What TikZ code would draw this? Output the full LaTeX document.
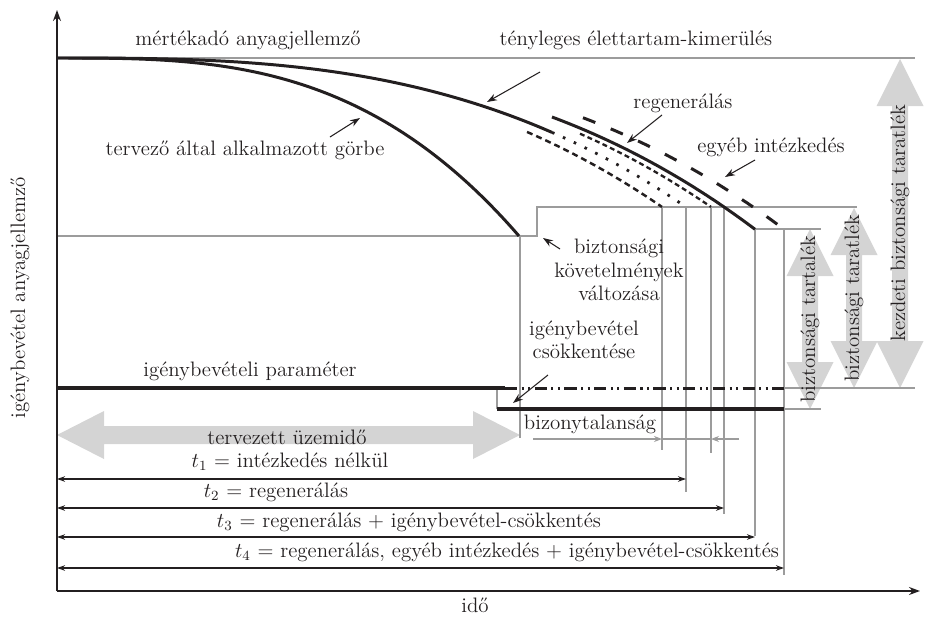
\documentclass[tikz,border=0pt]{standalone}
\usepackage{tikz}
\usetikzlibrary{arrows.meta}
\definecolor{ink}{HTML}{231F20}
\definecolor{rulegrey}{HTML}{9C9C9C}
\definecolor{fatgrey}{HTML}{D4D4D4}

% fat grey double arrows: vertical {x}{ytop}{ybottom}, horizontal {y}{xleft}{xright}
\newcommand\fatvarrow[3]{%
  \fill[fatgrey] (#1,#2) -- ({#1+23.5},{#2+47}) -- ({#1+8},{#2+47}) -- ({#1+8},{#3-47})
    -- ({#1+23.5},{#3-47}) -- (#1,#3) -- ({#1-23.5},{#3-47}) -- ({#1-8},{#3-47})
    -- ({#1-8},{#2+47}) -- ({#1-23.5},{#2+47}) -- cycle;}
\newcommand\fatharrow[3]{%
  \fill[fatgrey] (#2,#1) -- ({#2+47},{#1-24}) -- ({#2+47},{#1-9}) -- ({#3-47},{#1-9})
    -- ({#3-47},{#1-24}) -- (#3,#1) -- ({#3-47},{#1+24}) -- ({#3-47},{#1+9})
    -- ({#2+47},{#1+9}) -- ({#2+47},{#1+24}) -- cycle;}

\begin{document}
\begin{tikzpicture}[x=0.02cm,y=-0.02cm,font=\fontsize{11.9}{13.4}\selectfont,text=ink,
  lbl/.style={inner sep=0pt},
  greyline/.style={rulegrey,line width=0.6pt},
  axis/.style={ink,line width=0.8pt,-{Stealth[length=2.2mm,width=1.6mm]}},
  curve/.style={ink,line width=1.7pt},
  lowband/.style={ink,line width=1.4pt,dash pattern=on 3.4pt off 2.3pt},
  highband/.style={ink,line width=1.3pt,dash pattern=on 2.8pt off 1.9pt},
  noaction/.style={ink,line width=1.6pt,dash pattern=on 1.5pt off 5.3pt},
  othermeasure/.style={ink,line width=1.7pt,dash pattern=on 7.5pt off 9.5pt},
  loadline/.style={ink,line width=1.8pt},
  reducedload/.style={ink,line width=1.7pt,dash pattern=on 7pt off 2.5pt on 1.2pt off 2.5pt on 1.2pt off 2.5pt},
  labarrow/.style={ink,line width=0.6pt,-{Stealth[length=2mm,width=1.4mm]}},
  tspan/.style={ink,line width=0.7pt,{Stealth[length=1.6mm,width=1.1mm]}-{Stealth[length=1.6mm,width=1.1mm]}},
  spread/.style={rulegrey,line width=0.6pt,-{Stealth[length=1.6mm,width=1.2mm]}}]
\useasboundingbox (0,0) rectangle (927,616);

% fat arrows
\fatharrow{435}{57}{520}
\fatvarrow{810}{229}{409}
\fatvarrow{854}{208}{388}
\fatvarrow{900}{59}{388}

% grey levels and markers
\draw[greyline] (57,58) -- (915,58);
\draw[greyline] (57,236) -- (537,236) -- (537,207) -- (857,207);
\draw[greyline] (755,229) -- (821,229);
\draw[greyline] (784,388) -- (915,388);
\draw[greyline] (784,409) -- (821,409);
\draw[greyline] (497,388) -- (497,409);
\draw[greyline] (520,236) -- (520,438);
\draw[greyline] (662,207) -- (662,450);
\draw[greyline] (686,207) -- (686,492);
\draw[greyline] (711,207) -- (711,453);
\draw[greyline] (724,207) -- (724,514);
\draw[greyline] (755,229) -- (755,536);
\draw[greyline] (784,229) -- (784,575);

% uncertainty
\coordinate (unc-l) at (533,439);
\coordinate (unc-a) at (662,439);
\coordinate (unc-b) at (711,439);
\coordinate (unc-r) at (739,439);
\draw[spread] (unc-l) -- (unc-a);
\draw[greyline] (unc-a) -- (unc-b);
\draw[spread] (unc-r) -- (unc-b);

% axes
\coordinate (origo) at (57,591);
\coordinate (ytip) at (57,10);
\coordinate (xtip) at (920,591);
\draw[axis] (origo) -- (ytip);
\draw[axis] (origo) -- (xtip);

% load levels
\draw[loadline] (57,388) -- (505,388);
\draw[reducedload] (505,388) -- (784,388);
\draw[loadline] (497,409) -- (784,409);

% material curves
\draw[curve] plot[domain=57.01:519,samples=80] (\x,{58+178*((\x-57)/462)^3});
\draw[curve] plot[domain=57.01:552,samples=80] (\x,{58+149*((\x-57)/629)^2.9});
\draw[noaction] plot[domain=552:686,samples=40] (\x,{58+149*((\x-57)/629)^2.9});
\draw[lowband] plot[domain=527:662,samples=40] (\x,{58+149*((\x-33)/629)^2.9});
\draw[highband] plot[domain=580:711,samples=40] (\x,{58+149*((\x-82)/629)^2.9});
\draw[curve] plot[domain=552:755,samples=50] (\x,{58+149*((\x-95)/629)^2.9});
\draw[othermeasure] plot[domain=583:784,samples=50] (\x,{58+149*((\x-124)/629)^2.9});

% labels
\node[lbl] (mert) at (248,40) {mértékadó anyagjellemző};
\node[lbl] (teny) at (636,40) {tényleges élettartam-kimerülés};
\node[lbl] (terv) at (245,150) {tervező által alkalmazott görbe};
\node[lbl] (regen) at (683,103) {regenerálás};
\node[lbl] (egyeb) at (771,147) {egyéb intézkedés};
\node[lbl,align=center] (kovet) at (619,270) {biztonsági\\követelmények\\változása};
\node[lbl,align=center] (csokk) at (584,340) {igénybevétel\\csökkentése};
\node[lbl] (param) at (250,371) {igénybevételi paraméter};
\node[lbl] (uzem) at (287,437) {tervezett üzemidő};
\node[lbl] (bizony) at (590,424) {bizonytalanság};
\node[lbl] (t1) at (290,462) {$t_1$ = intézkedés nélkül};
\node[lbl] (t2) at (276,492) {$t_2$ = regenerálás};
\node[lbl] (t3) at (409,522) {$t_3$ = regenerálás + igénybevétel-csökkentés};
\node[lbl] (t4) at (507,552) {$t_4$ = regenerálás, egyéb intézkedés + igénybevétel-csökkentés};
\node[lbl] (ido) at (475,605) {idő};
\node[lbl,rotate=90] (ylab) at (20,298) {igénybevétel anyagjellemző};
\node[lbl,rotate=90] (marg1) at (810,319) {biztonsági tartalék};
\node[lbl,rotate=90] (marg2) at (854,298) {biztonsági taratlék};
\node[lbl,rotate=90] (marg0) at (900,223) {kezdeti biztonsági taratlék};

% pointers
\coordinate (teny-tip) at (487,102);
\coordinate (terv-tip) at (360,118);
\coordinate (regen-tip) at (627,143);
\coordinate (egyeb-tip) at (725,177);
\coordinate (kovet-tip) at (543,238);
\coordinate (csokk-tip) at (513,403);
\draw[labarrow] (540,72) -- (teny-tip);
\draw[labarrow] (330,137) -- (terv-tip);
\draw[labarrow] (662,115) -- (regen-tip);
\draw[labarrow] (755,160) -- (egyeb-tip);
\draw[labarrow] (560,249) -- (kovet-tip);
\draw[labarrow] (548,375) -- (csokk-tip);

% life spans
\coordinate (t1-l) at (57,479);  \coordinate (t1-r) at (686,479);
\coordinate (t2-l) at (57,508);  \coordinate (t2-r) at (724,508);
\coordinate (t3-l) at (57,537);  \coordinate (t3-r) at (755,537);
\coordinate (t4-l) at (57,568);  \coordinate (t4-r) at (784,568);
\draw[tspan] (t1-l) -- (t1-r);
\draw[tspan] (t2-l) -- (t2-r);
\draw[tspan] (t3-l) -- (t3-r);
\draw[tspan] (t4-l) -- (t4-r);
\end{tikzpicture}
\end{document}
